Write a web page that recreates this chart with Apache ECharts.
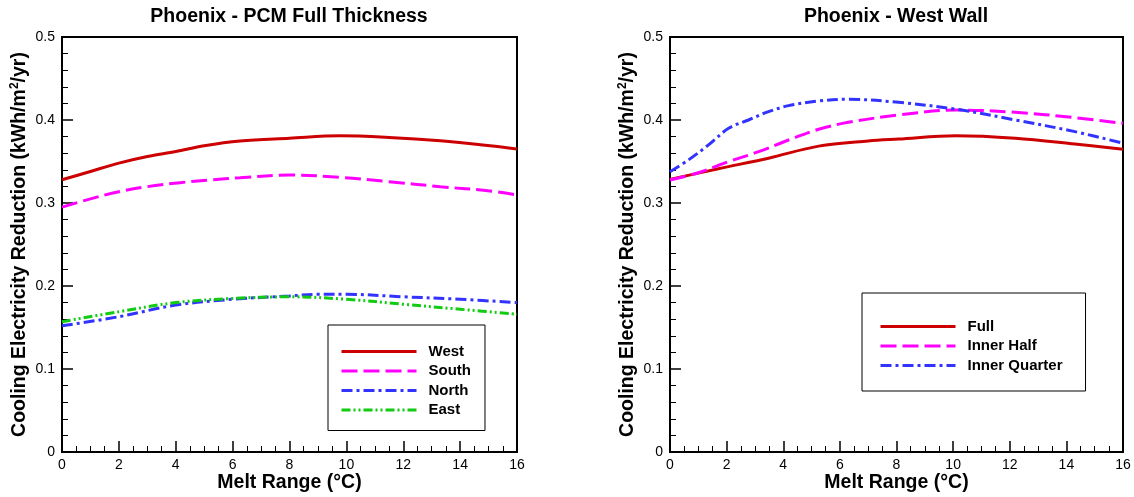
<!DOCTYPE html>
<html>
<head>
<meta charset="utf-8">
<script src="https://cdn.jsdelivr.net/npm/echarts@6/dist/echarts.min.js"></script>
<style>
html,body{margin:0;padding:0;background:#fff;}
#chart{width:1134px;height:497px;}
</style>
</head>
<body>
<div id="chart"></div>
<script>
// ---- Data (Melt Range °C, Cooling Electricity Reduction kWh/m2/yr) ----
var titles = ['Phoenix - PCM Full Thickness', 'Phoenix - West Wall'];
var xTicks = [0, 2, 4, 6, 8, 10, 12, 14, 16];
var yTicks = [0, 0.1, 0.2, 0.3, 0.4, 0.5];

var leftNames = ['West', 'South', 'North', 'East'];
var westPts  = [[0,0.328],[1,0.338],[2,0.348],[3,0.356],[4,0.362],[5,0.369],[6.26,0.3747],[8,0.378],[9.77,0.381],[11.5,0.379],[13.3,0.375],[15.05,0.369],[16,0.365]];
var southPts = [[0,0.295],[1,0.305],[2,0.3136],[3,0.3197],[4.15,0.3245],[5.2,0.3277],[6.26,0.3305],[8,0.3337],[9.77,0.331],[11.5,0.3257],[13.3,0.3197],[15.05,0.3145],[16,0.3096]];
var northPts = [[0,0.152],[2,0.163],[4,0.177],[6,0.184],[8,0.188],[9,0.190],[10,0.190],[12,0.187],[14,0.184],[16,0.180]];
var eastPts  = [[0,0.157],[2,0.169],[4,0.180],[6,0.185],[8,0.187],[10,0.184],[12,0.178],[14,0.172],[16,0.166]];

var rightNames = ['Full', 'Inner Half', 'Inner Quarter'];
var fullPts    = [[0,0.3285],[1.71,0.3413],[3.48,0.354],[5.25,0.3685],[7,0.3747],[8.07,0.377],[10.1,0.381],[12.2,0.378],[14.3,0.371],[16,0.3647]];
var halfPts    = [[0,0.3277],[1,0.3365],[2.07,0.3498],[3.13,0.3618],[4.19,0.3759],[5.25,0.3888],[6.3,0.3972],[8.07,0.406],[10.1,0.412],[12.2,0.4093],[14.3,0.4028],[16,0.396]];
var quarterPts = [[0,0.3377],[0.65,0.3518],[1.36,0.370],[2.07,0.390],[2.77,0.400],[3.48,0.410],[4.19,0.4173],[5.25,0.4229],[6.3,0.425],[8.07,0.4213],[10.1,0.413],[12.2,0.400],[14.3,0.386],[16,0.372]];

var FONT = 'Liberation Sans, Arial, sans-serif';
var RED = '#cc0000', MAG = '#ff00ff', BLUE = '#3333ff', GREEN = '#11cc11';

function xAxisCfg(gi) {
  return {
    type: 'value', gridIndex: gi, min: 0, max: 16, interval: 2,
    name: 'Melt Range (°C)', nameLocation: 'middle', nameGap: 21, nameMoveOverlap: false,
    nameTextStyle: {fontFamily: FONT, fontWeight: 'bold', fontSize: 19.5, color: '#000'},
    axisLine: {show: true, onZero: false, lineStyle: {color: '#000', width: 2}},
    axisTick: {show: true, inside: true, length: 11, lineStyle: {color: '#000', width: 1.5}},
    minorTick: {show: true, splitNumber: 4, length: 6, lineStyle: {color: '#000', width: 1}},
    axisLabel: {fontFamily: FONT, fontSize: 14, color: '#000', margin: 6,
      formatter: function (v) { return xTicks.indexOf(v) >= 0 ? String(v) : ''; }},
    splitLine: {show: false}
  };
}
function yAxisCfg(gi) {
  return {
    type: 'value', gridIndex: gi, min: 0, max: 0.5, interval: 0.1,
    name: 'Cooling Electricity Reduction (kWh/m{sup|2}/yr)', nameLocation: 'middle', nameGap: 31,
    nameTextStyle: {fontFamily: FONT, fontWeight: 'bold', fontSize: 19.5, color: '#000', lineHeight: 22,
      rich: {sup: {fontFamily: FONT, fontWeight: 'bold', fontSize: 12, color: '#000', verticalAlign: 'top', lineHeight: 22, padding: [0, 0, 7, 0]}}},
    axisLine: {show: true, onZero: false, lineStyle: {color: '#000', width: 2}},
    axisTick: {show: true, inside: true, length: 11, lineStyle: {color: '#000', width: 1.5}},
    minorTick: {show: true, splitNumber: 5, length: 6, lineStyle: {color: '#000', width: 1}},
    axisLabel: {fontFamily: FONT, fontSize: 14, color: '#000', margin: 7,
      formatter: function (v) {
        for (var i = 0; i < yTicks.length; i++) { if (Math.abs(yTicks[i] - v) < 1e-9) return String(yTicks[i]); }
        return '';
      }},
    splitLine: {show: false}
  };
}
function lineSeries(name, pts, color, dash, gi) {
  return {
    type: 'line', name: name, data: pts, xAxisIndex: gi, yAxisIndex: gi,
    smooth: 0.35, symbol: 'none', showSymbol: false,
    lineStyle: {color: color, width: 3, type: dash},
    itemStyle: {color: color},
    emphasis: {disabled: true}
  };
}
function legendCfg(names, left, top, pad) {
  return {
    data: names, orient: 'vertical', left: left, top: top,
    itemWidth: 75, itemHeight: 14, itemGap: 4.5,
    padding: pad, borderColor: '#000', borderWidth: 1, backgroundColor: '#fff',
    selectedMode: false,
    itemStyle: {opacity: 0},
    lineStyle: {width: 3},
    textStyle: {fontFamily: FONT, fontWeight: 'bold', fontSize: 15, color: '#000', padding: [0, 0, 0, 7]}
  };
}

var chart = echarts.init(document.getElementById('chart'), null, {renderer: 'canvas'});
chart.setOption({
  animation: false,
  backgroundColor: '#fff',
  title: [
    {text: titles[0], left: 289, top: 7, textAlign: 'center', padding: 0,
      textStyle: {fontFamily: FONT, fontWeight: 'bold', fontSize: 19.5, color: '#000'}},
    {text: titles[1], left: 896, top: 7, textAlign: 'center', padding: 0,
      textStyle: {fontFamily: FONT, fontWeight: 'bold', fontSize: 19.5, color: '#000'}}
  ],
  grid: [
    {left: 62, top: 37, width: 455, height: 415, show: true, borderColor: '#000', borderWidth: 2,
      backgroundColor: 'transparent', containLabel: false, outerBoundsMode: 'none'},
    {left: 670, top: 37, width: 453, height: 415, show: true, borderColor: '#000', borderWidth: 2,
      backgroundColor: 'transparent', containLabel: false, outerBoundsMode: 'none'}
  ],
  xAxis: [xAxisCfg(0), xAxisCfg(1)],
  yAxis: [yAxisCfg(0), yAxisCfg(1)],
  legend: [
    legendCfg(leftNames, 328, 325, [19, 14, 13, 12]),
    legendCfg(rightNames, 862, 293, [26, 23, 18, 17])
  ],
  series: [
    lineSeries(leftNames[0], westPts, RED, 'solid', 0),
    lineSeries(leftNames[1], southPts, MAG, [16, 6], 0),
    lineSeries(leftNames[2], northPts, BLUE, [11, 4, 3, 4], 0),
    lineSeries(leftNames[3], eastPts, GREEN, [9, 3, 2, 3, 2, 3], 0),
    lineSeries(rightNames[0], fullPts, RED, 'solid', 1),
    lineSeries(rightNames[1], halfPts, MAG, [16, 6], 1),
    lineSeries(rightNames[2], quarterPts, BLUE, [11, 4, 3, 4], 1)
  ]
});
</script>
</body>
</html>
